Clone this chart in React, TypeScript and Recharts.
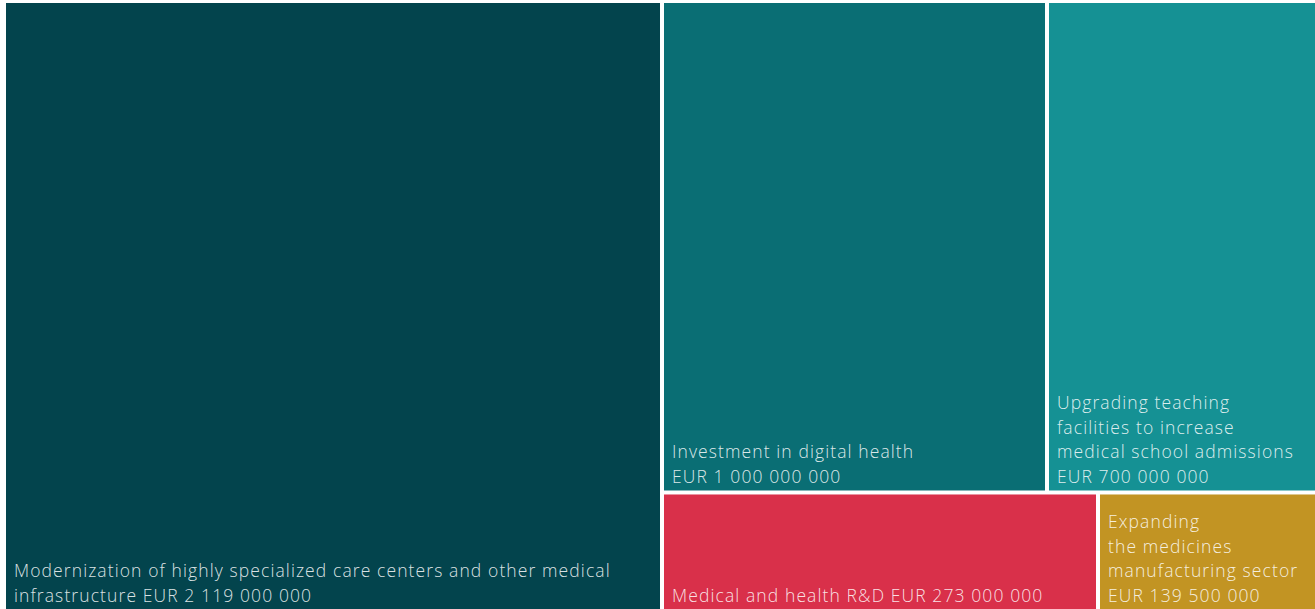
import React from 'react';
import { Treemap } from 'recharts';

const CATEGORIES: string[] = [
  'Modernization of highly specialized care centers and other medical infrastructure',
  'Investment in digital health',
  'Upgrading teaching facilities to increase medical school admissions',
  'Medical and health R&D',
  'Expanding the medicines manufacturing sector',
];

const VALUES: number[] = [2119000000, 1000000000, 700000000, 273000000, 139500000];

const LABEL_LINES: string[][] = [
  ['Modernization of highly specialized care centers and other medical', 'infrastructure EUR 2 119 000 000'],
  ['Investment in digital health', 'EUR 1 000 000 000'],
  ['Upgrading teaching', 'facilities to increase', 'medical school admissions', 'EUR 700 000 000'],
  ['Medical and health R&D EUR 273 000 000'],
  ['Expanding', 'the medicines', 'manufacturing sector', 'EUR 139 500 000'],
];

const COLORS: string[] = ['#03444d', '#0a6e74', '#159194', '#d9304a', '#c29423'];

const CHART_W = 1313;
const VISIBLE_H = 610;
const LAYOUT_H = 700;
const KY = VISIBLE_H / LAYOUT_H;
const GAP = 4;
const LINE_H = 24.5;

const data = CATEGORIES.map((name, i) => ({ name, size: VALUES[i] }));

const CellContent = (props: any) => {
  const { x, y, width, height, depth, name } = props;
  if (depth !== 1) return <g />;
  const i = CATEGORIES.indexOf(name);
  const top = y * KY;
  const h = height * KY;
  const rx = x + GAP / 2;
  const ry = top + GAP / 2;
  const rw = width - GAP;
  const rh = h - GAP;
  const lines = LABEL_LINES[i] || [];
  return (
    <g>
      <rect x={rx} y={ry} width={rw} height={rh} fill={COLORS[i]} stroke="none" />
      {lines.map((l, j) => (
        <text
          key={j}
          x={rx + 8}
          y={ry + rh - 7.5 - (lines.length - 1 - j) * LINE_H}
          fill="#ffffff"
          fillOpacity={0.86}
          fontFamily="'Open Sans', sans-serif"
          fontWeight={300}
          fontSize={17.5}
          letterSpacing={1.1}
        >
          {l}
        </text>
      ))}
    </g>
  );
};

export default function App() {
  return (
    <div
      style={{
        position: 'absolute',
        left: 4,
        top: 1,
        width: CHART_W,
        height: VISIBLE_H,
        overflow: 'hidden',
        background: '#ffffff',
      }}
    >
      <Treemap
        width={CHART_W}
        height={LAYOUT_H}
        data={data}
        dataKey="size"
        nameKey="name"
        isAnimationActive={false}
        content={CellContent as any}
      />
    </div>
  );
}
